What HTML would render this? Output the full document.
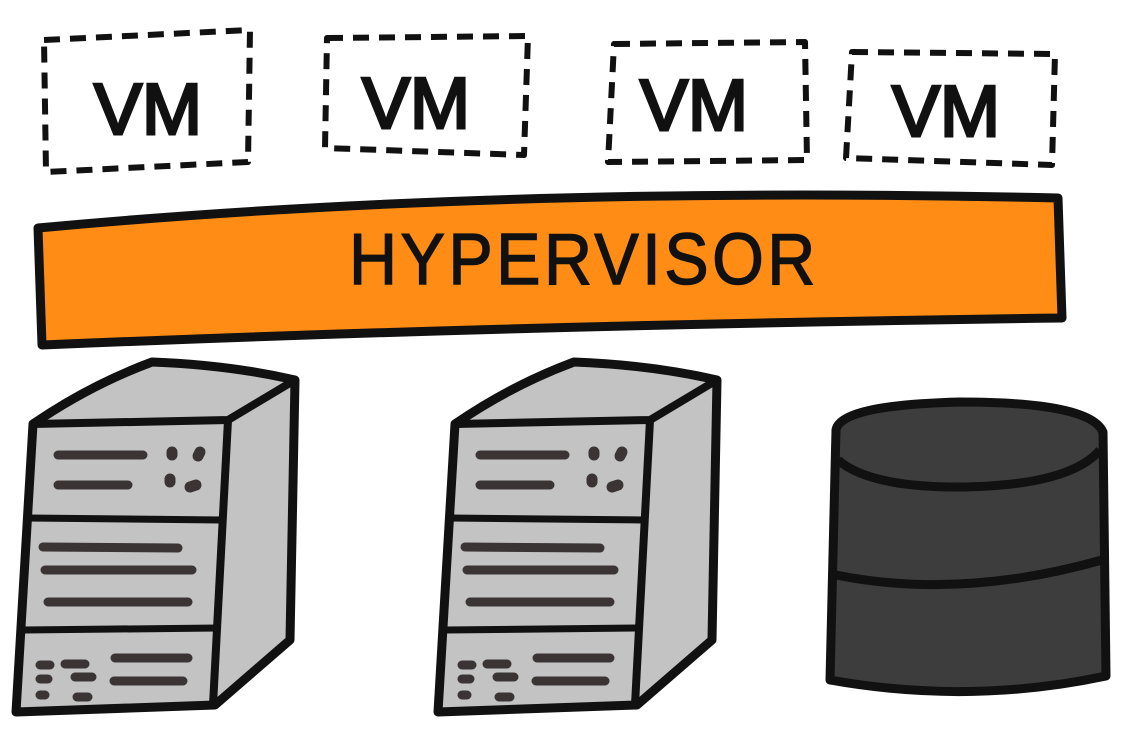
<!DOCTYPE html>
<html><head><style>
html,body{margin:0;padding:0;background:#fff;width:1124px;height:732px;overflow:hidden}
</style></head><body>
<svg width="1124" height="732" viewBox="0 0 1124 732" xmlns="http://www.w3.org/2000/svg">
<g fill="none" stroke="#111" stroke-width="6" stroke-dasharray="16 10" stroke-linejoin="round">
<path d="M44 40 L250 30 L248 162 L46 172 Z"/>
<path d="M327 38 L528 36 L524 155 L325 148 Z"/>
<path d="M614 44 L805 42 L807 160 L608 162 Z"/>
<path d="M852 52 L1055 54 L1052 165 L846 158 Z"/>
</g>
<g font-family="Liberation Sans, sans-serif" font-size="72" fill="#111" stroke="#111" stroke-width="3" text-anchor="middle">
<text x="148" y="134">VM</text>
<text x="416" y="128">VM</text>
<text x="694" y="130">VM</text>
<text x="946" y="136">VM</text>
</g>
<path d="M38 228 Q500 185 1058 198 L1062 318 Q520 325 42 345 Z" fill="#ff8c14" stroke="#111" stroke-width="9" stroke-linejoin="round"/>
<text x="0" y="0" font-family="Liberation Sans, sans-serif" font-size="72" fill="#111" stroke="#111" stroke-width="1.5" text-anchor="middle" letter-spacing="4" transform="translate(584,284) scale(0.92,1)">HYPERVISOR</text>
<g id="srv">
<path d="M33 424 Q90 385 152 362 Q230 365 295 380 L290 640 L215 705 L16 712 Z" fill="#c3c3c3" stroke="#111" stroke-width="9" stroke-linejoin="round"/>
<path d="M33 424 L228 420 L295 380" fill="none" stroke="#111" stroke-width="8"/>
<path d="M228 420 L213 705" fill="none" stroke="#111" stroke-width="8"/>
<path d="M28 518 L222 520 M24 630 L218 628" stroke="#111" stroke-width="7"/>
<g stroke="#3a3434" stroke-width="9" stroke-linecap="round">
<path d="M58 455 L143 455 M58 485 L128 485 M43 547 L178 548 M45 570 L192 570 M48 602 L188 602 M115 658 L188 658 M114 681 L183 681 M40 665 L50 665 M65 664 L85 664 M40 679 L48 679 M75 677 L92 677 M40 695 L45 695 M77 697 L88 697"/>
<path d="M172 452 L172 455 M200 452 L198 456 M170 479 L170 482 M190 487 L196 485" stroke-width="11"/>
</g>
</g>
<use href="#srv" transform="translate(422,0)"/>
<path d="M836 430 Q840 405 960 402 Q1090 402 1103 432 L1106 676 Q970 705 830 680 Z" fill="#3d3d3d" stroke="#111" stroke-width="9" stroke-linejoin="round"/>
<path d="M838 460 Q870 488 965 487 Q1070 485 1100 450" fill="none" stroke="#111" stroke-width="9"/>
<path d="M836 575 Q960 600 1102 560" fill="none" stroke="#111" stroke-width="9"/>
</svg>
</body></html>
